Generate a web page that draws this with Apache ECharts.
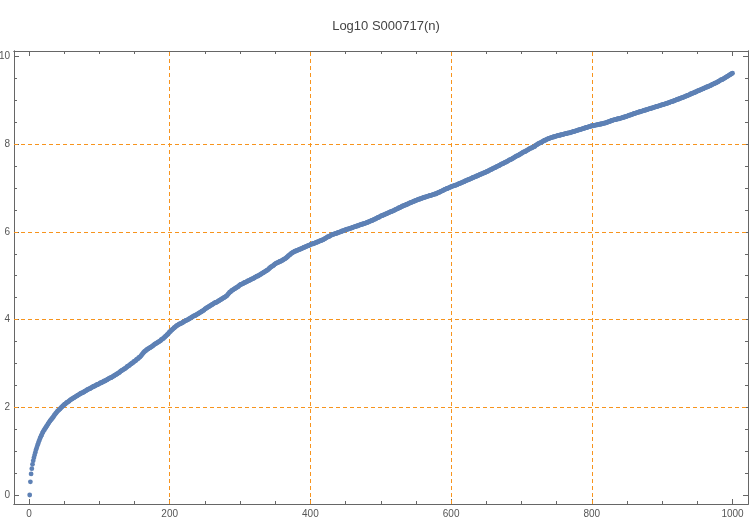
<!DOCTYPE html>
<html>
<head>
<meta charset="utf-8">
<script src="https://cdn.jsdelivr.net/npm/echarts@6/dist/echarts.min.js"></script>
<style>
html,body{margin:0;padding:0;background:#fff;}
#chart{width:750px;height:521px;}
</style>
</head>
<body>
<div id="chart"></div>
<script>
// log10 values for n = 1..1000
const values = [
0,0.30,0.48,0.60,0.70,0.78,0.85,0.91,0.97,1.03,
1.08,1.13,1.17,1.22,1.26,1.30,1.34,1.37,1.41,1.44,
1.47,1.49,1.52,1.54,1.57,1.59,1.62,1.64,1.67,1.69,
1.71,1.73,1.75,1.77,1.79,1.82,1.84,1.86,1.88,1.90,
1.92,1.93,1.95,1.96,1.98,2.00,2.01,2.03,2.04,2.06,
2.07,2.08,2.10,2.11,2.12,2.13,2.14,2.16,2.17,2.18,
2.19,2.20,2.21,2.22,2.23,2.24,2.25,2.26,2.27,2.28,
2.29,2.30,2.31,2.32,2.33,2.33,2.34,2.35,2.36,2.37,
2.38,2.39,2.40,2.41,2.42,2.42,2.43,2.44,2.45,2.46,
2.47,2.48,2.48,2.49,2.50,2.51,2.52,2.52,2.53,2.54,
2.55,2.56,2.56,2.57,2.58,2.59,2.60,2.60,2.61,2.62,
2.63,2.64,2.65,2.66,2.67,2.67,2.68,2.69,2.70,2.71,
2.72,2.73,2.74,2.75,2.76,2.77,2.78,2.79,2.80,2.82,
2.83,2.84,2.85,2.86,2.87,2.88,2.89,2.90,2.92,2.93,
2.94,2.95,2.96,2.98,2.99,3.00,3.01,3.02,3.04,3.05,
3.06,3.07,3.09,3.10,3.11,3.13,3.14,3.15,3.17,3.19,
3.21,3.23,3.25,3.27,3.28,3.29,3.31,3.32,3.33,3.34,
3.35,3.36,3.37,3.38,3.39,3.40,3.42,3.43,3.44,3.45,
3.46,3.47,3.48,3.49,3.50,3.51,3.52,3.54,3.55,3.56,
3.57,3.59,3.60,3.62,3.63,3.65,3.66,3.68,3.70,3.72,
3.73,3.75,3.76,3.78,3.79,3.81,3.82,3.83,3.85,3.86,
3.87,3.88,3.89,3.90,3.91,3.91,3.92,3.93,3.94,3.95,
3.96,3.97,3.98,3.99,3.99,4.00,4.01,4.02,4.03,4.04,
4.05,4.06,4.07,4.08,4.09,4.09,4.10,4.11,4.12,4.13,
4.14,4.15,4.16,4.17,4.18,4.19,4.20,4.21,4.22,4.24,
4.25,4.26,4.27,4.28,4.29,4.30,4.31,4.32,4.33,4.34,
4.35,4.36,4.37,4.38,4.39,4.39,4.40,4.41,4.42,4.43,
4.44,4.45,4.46,4.47,4.48,4.49,4.50,4.51,4.52,4.53,
4.54,4.56,4.58,4.60,4.62,4.63,4.64,4.66,4.67,4.68,
4.69,4.70,4.71,4.72,4.73,4.74,4.75,4.76,4.78,4.79,
4.80,4.81,4.81,4.82,4.83,4.84,4.85,4.85,4.86,4.87,
4.88,4.89,4.89,4.90,4.91,4.92,4.93,4.93,4.94,4.95,
4.96,4.97,4.98,4.99,4.99,5.00,5.01,5.02,5.03,5.04,
5.05,5.06,5.07,5.08,5.09,5.10,5.11,5.12,5.13,5.14,
5.16,5.17,5.19,5.20,5.21,5.22,5.23,5.24,5.26,5.27,
5.28,5.29,5.30,5.30,5.31,5.32,5.33,5.33,5.34,5.35,
5.36,5.37,5.38,5.39,5.40,5.41,5.43,5.44,5.46,5.47,
5.48,5.50,5.51,5.52,5.53,5.54,5.55,5.56,5.56,5.57,
5.58,5.58,5.59,5.60,5.60,5.61,5.62,5.62,5.63,5.64,
5.65,5.65,5.66,5.67,5.67,5.68,5.69,5.69,5.70,5.71,
5.72,5.72,5.73,5.73,5.74,5.74,5.75,5.76,5.76,5.77,
5.78,5.78,5.79,5.80,5.80,5.81,5.82,5.82,5.83,5.84,
5.85,5.86,5.87,5.88,5.89,5.89,5.90,5.91,5.92,5.93,
5.94,5.94,5.95,5.95,5.96,5.96,5.97,5.97,5.98,5.99,
5.99,6.00,6.00,6.01,6.02,6.02,6.03,6.03,6.04,6.05,
6.05,6.06,6.06,6.07,6.07,6.08,6.08,6.09,6.09,6.10,
6.11,6.11,6.12,6.12,6.13,6.13,6.14,6.14,6.15,6.16,
6.16,6.17,6.17,6.18,6.18,6.19,6.19,6.20,6.20,6.21,
6.22,6.22,6.23,6.24,6.24,6.25,6.26,6.26,6.27,6.28,
6.29,6.29,6.30,6.31,6.32,6.33,6.33,6.34,6.35,6.36,
6.37,6.37,6.38,6.39,6.39,6.40,6.41,6.41,6.42,6.43,
6.44,6.44,6.45,6.46,6.46,6.47,6.48,6.48,6.49,6.50,
6.51,6.52,6.52,6.53,6.54,6.55,6.55,6.56,6.57,6.58,
6.59,6.59,6.60,6.61,6.61,6.62,6.63,6.63,6.64,6.65,
6.66,6.66,6.67,6.68,6.68,6.69,6.70,6.70,6.71,6.72,
6.72,6.73,6.74,6.74,6.75,6.75,6.76,6.76,6.77,6.78,
6.78,6.79,6.79,6.80,6.80,6.81,6.81,6.82,6.82,6.83,
6.83,6.84,6.84,6.85,6.85,6.86,6.86,6.87,6.87,6.88,
6.89,6.90,6.90,6.91,6.92,6.93,6.93,6.94,6.95,6.96,
6.97,6.97,6.98,6.99,6.99,7.00,7.01,7.01,7.02,7.03,
7.04,7.04,7.05,7.05,7.06,7.06,7.07,7.07,7.08,7.09,
7.10,7.10,7.11,7.12,7.12,7.13,7.14,7.14,7.15,7.16,
7.17,7.17,7.18,7.19,7.19,7.20,7.21,7.21,7.22,7.23,
7.24,7.24,7.25,7.26,7.26,7.27,7.28,7.28,7.29,7.30,
7.31,7.31,7.32,7.33,7.33,7.34,7.35,7.35,7.36,7.37,
7.38,7.38,7.39,7.40,7.41,7.42,7.42,7.43,7.44,7.45,
7.46,7.46,7.47,7.48,7.49,7.50,7.50,7.51,7.52,7.53,
7.54,7.55,7.55,7.56,7.57,7.58,7.59,7.59,7.60,7.61,
7.62,7.63,7.64,7.65,7.65,7.66,7.67,7.68,7.69,7.70,
7.71,7.72,7.73,7.74,7.74,7.75,7.76,7.77,7.78,7.79,
7.80,7.81,7.82,7.83,7.83,7.84,7.85,7.86,7.87,7.88,
7.89,7.90,7.91,7.91,7.92,7.93,7.94,7.94,7.95,7.97,
7.98,7.99,8.00,8.01,8.02,8.03,8.03,8.04,8.05,8.06,
8.07,8.08,8.09,8.09,8.10,8.11,8.12,8.12,8.13,8.14,
8.14,8.15,8.15,8.16,8.16,8.17,8.17,8.18,8.18,8.19,
8.19,8.20,8.20,8.20,8.21,8.21,8.22,8.22,8.22,8.23,
8.23,8.24,8.24,8.24,8.25,8.25,8.26,8.26,8.26,8.27,
8.27,8.28,8.28,8.29,8.29,8.30,8.30,8.31,8.31,8.32,
8.32,8.33,8.33,8.34,8.34,8.35,8.35,8.36,8.36,8.37,
8.37,8.38,8.38,8.39,8.39,8.40,8.40,8.41,8.41,8.42,
8.42,8.42,8.43,8.43,8.43,8.44,8.44,8.44,8.45,8.45,
8.45,8.46,8.46,8.46,8.47,8.47,8.48,8.48,8.48,8.49,
8.49,8.50,8.51,8.51,8.52,8.52,8.53,8.54,8.54,8.55,
8.55,8.56,8.56,8.56,8.57,8.57,8.58,8.58,8.58,8.59,
8.59,8.60,8.60,8.61,8.61,8.62,8.62,8.63,8.63,8.64,
8.64,8.65,8.66,8.66,8.67,8.67,8.68,8.68,8.69,8.70,
8.70,8.71,8.71,8.72,8.72,8.73,8.73,8.74,8.74,8.75,
8.75,8.76,8.76,8.77,8.77,8.78,8.78,8.79,8.79,8.80,
8.80,8.81,8.81,8.82,8.82,8.83,8.83,8.84,8.84,8.85,
8.85,8.86,8.86,8.87,8.87,8.88,8.88,8.89,8.89,8.90,
8.90,8.91,8.91,8.92,8.92,8.93,8.93,8.94,8.94,8.95,
8.96,8.96,8.97,8.97,8.98,8.98,8.99,9.00,9.00,9.01,
9.02,9.02,9.03,9.03,9.04,9.05,9.05,9.06,9.06,9.07,
9.08,9.08,9.09,9.10,9.10,9.11,9.12,9.12,9.13,9.14,
9.15,9.15,9.16,9.17,9.17,9.18,9.19,9.19,9.20,9.21,
9.22,9.22,9.23,9.24,9.24,9.25,9.26,9.26,9.27,9.28,
9.29,9.29,9.30,9.31,9.31,9.32,9.33,9.33,9.34,9.35,
9.36,9.37,9.37,9.38,9.39,9.40,9.40,9.41,9.42,9.43,
9.44,9.45,9.46,9.47,9.47,9.48,9.49,9.50,9.51,9.52,
9.53,9.54,9.55,9.56,9.57,9.58,9.59,9.60,9.61,9.62
];
const firstN = 1;

const xMajorTicks = [0, 200, 400, 600, 800, 1000];
const xMinorTicks = [50, 100, 150, 250, 300, 350, 450, 500, 550, 650, 700, 750, 850, 900, 950];
const yMajorTicks = [0, 2, 4, 6, 8, 10];
const yMinorTicks = [0.5, 1, 1.5, 2.5, 3, 3.5, 4.5, 5, 5.5, 6.5, 7, 7.5, 8.5, 9, 9.5];
const xGridLines = [200, 400, 600, 800];
const yGridLines = [2, 4, 6, 8];
const titleText = 'Log10 S000717(n)';

const frameColor = '#666666';
const labelColor = '#555555';
const gridColor = '#f7941d';
const pointColor = '#5e81b5';

const XMIN = -21.3, XMAX = 1022, YMIN = -0.205, YMAX = 10.125;
const FONT = 'Liberation Sans, Arial, sans-serif';

function xAx(pos, ticks, len, showLabel) {
  return {
    type: 'value', position: pos, min: XMIN, max: XMAX,
    axisLine: {show: true, onZero: false, lineStyle: {color: frameColor, width: 1}},
    axisTick: {show: true, inside: true, length: len, customValues: ticks, lineStyle: {color: frameColor}},
    axisLabel: showLabel ? {show: true, customValues: ticks, margin: 5, fontSize: 10, color: labelColor, fontFamily: FONT, formatter: v => String(v)} : {show: false},
    splitLine: {show: false}
  };
}
function yAx(pos, ticks, len, showLabel) {
  return {
    type: 'value', position: pos, min: YMIN, max: YMAX,
    axisLine: {show: true, onZero: false, lineStyle: {color: frameColor, width: 1}},
    axisTick: {show: true, inside: true, length: len, customValues: ticks, lineStyle: {color: frameColor}},
    axisLabel: showLabel ? {show: true, customValues: ticks, margin: 4, fontSize: 10, color: labelColor, fontFamily: FONT, formatter: v => String(v)} : {show: false},
    splitLine: {show: false}
  };
}

const chart = echarts.init(document.getElementById('chart'), null, {renderer: 'canvas'});
const points = values.map((v, i) => [firstN + i, v]);
const markData = xGridLines.map(x => ({xAxis: x})).concat(yGridLines.map(y => ({yAxis: y})));

chart.setOption({
  animation: false,
  backgroundColor: '#ffffff',
  title: {
    text: titleText, left: 381, top: 15, textAlign: 'center',
    textStyle: {fontSize: 13, fontWeight: 'normal', color: '#444444', fontFamily: FONT}
  },
  grid: {left: 14, top: 51, width: 734, height: 453, containLabel: false, outerBoundsMode: 'none'},
  xAxis: [
    xAx('bottom', xMajorTicks, 5, true),
    xAx('bottom', xMinorTicks, 3, false),
    xAx('top', xMajorTicks, 5, false),
    xAx('top', xMinorTicks, 3, false)
  ],
  yAxis: [
    yAx('left', yMajorTicks, 5, true),
    yAx('left', yMinorTicks, 3, false),
    yAx('right', yMajorTicks, 5, false),
    yAx('right', yMinorTicks, 3, false)
  ],
  series: [{
    type: 'scatter',
    xAxisIndex: 0, yAxisIndex: 0,
    data: points,
    symbol: 'circle',
    symbolSize: 4.8,
    itemStyle: {color: pointColor, opacity: 1},
    silent: true,
    markLine: {
      silent: true,
      symbol: ['none', 'none'],
      label: {show: false},
      lineStyle: {color: gridColor, width: 1, type: [4, 3], opacity: 1},
      emphasis: {disabled: true},
      data: markData,
      z: 1
    },
    z: 3
  }]
});
</script>
</body>
</html>
